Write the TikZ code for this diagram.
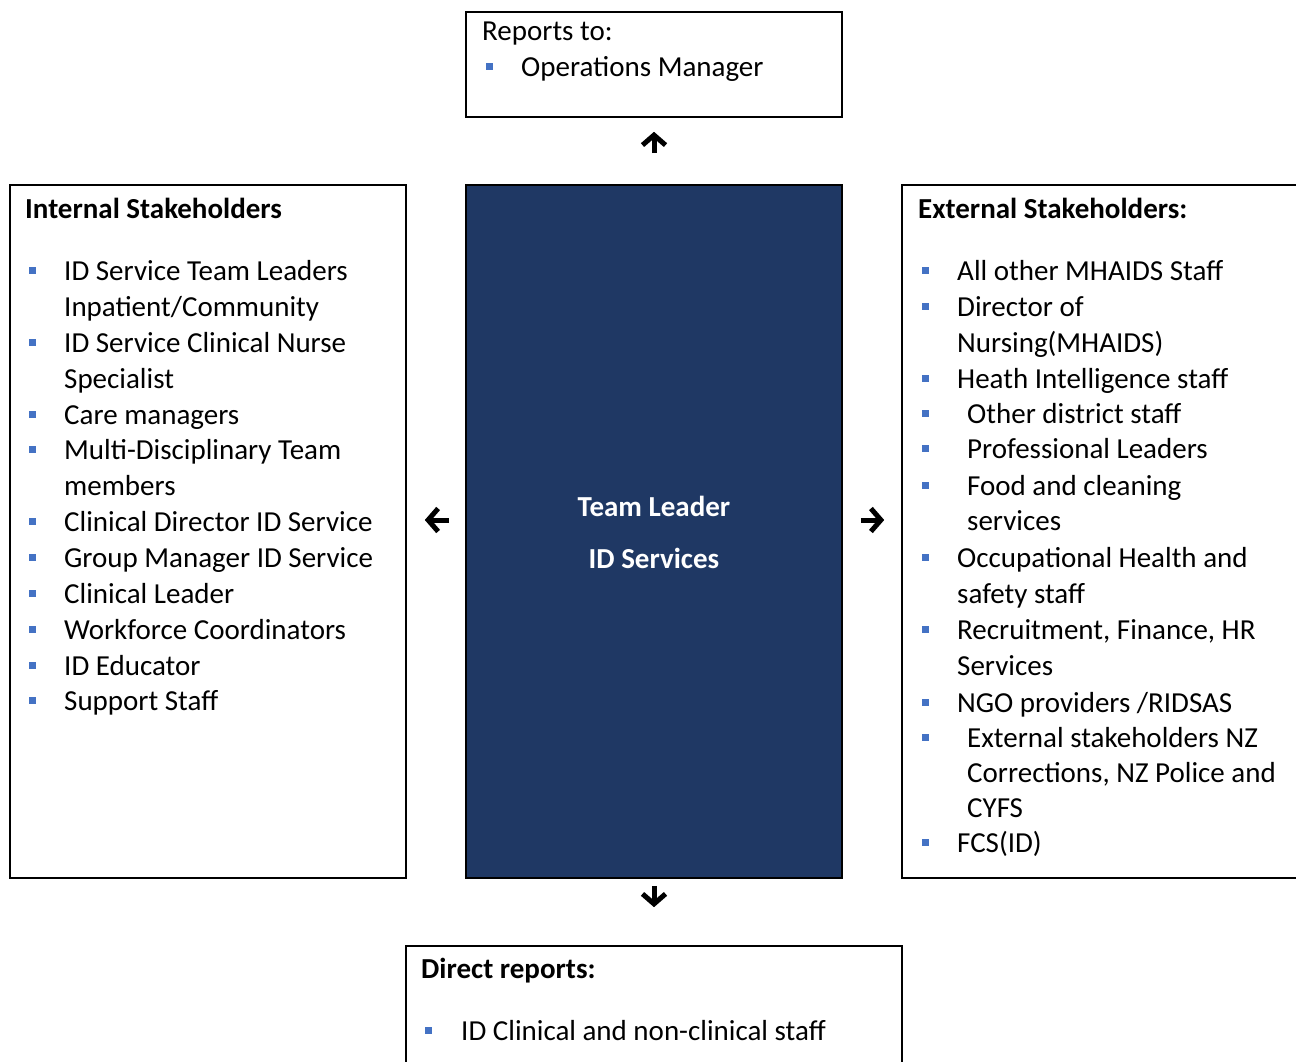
\documentclass[tikz,border=0pt]{standalone}
\usepackage{fontspec}
\setmainfont{Carlito}
\usetikzlibrary{arrows.meta}
\definecolor{navy}{HTML}{1F3864}
\definecolor{bulblue}{HTML}{4472C4}
\begin{document}
\begin{tikzpicture}[x=1pt,y=-1pt,
 box/.style={draw=black,line width=1.6pt,rectangle,inner sep=0pt},
 txt/.style={anchor=base west,inner sep=0pt,font=\fontsize{29}{34}\selectfont},
 ttl/.style={anchor=base west,inner sep=0pt,font=\fontsize{29}{34}\selectfont\bfseries},
 ctr/.style={anchor=base,inner sep=0pt,text=white,font=\fontsize{29}{34}\selectfont\bfseries},
 bul/.style={rectangle,fill=bulblue,inner sep=0pt,minimum size=7pt},
 arr/.style={line width=5pt,-{Straight Barb[length=10pt,width=23pt]}}]
\useasboundingbox (0,0) rectangle (1296,1062);
\fill[white] (0,0) rectangle (1296,1062);
% boxes
\node[box,minimum width=376pt,minimum height=105pt] (top) at (654,64.5) {};
\node[box,minimum width=396pt,minimum height=693pt] (left) at (208,531.5) {};
\node[box,fill=navy,minimum width=376pt,minimum height=693pt] (center) at (654,531.5) {};
\node[box,minimum width=408pt,minimum height=693pt] (right) at (1106,531.5) {};
\node[box,minimum width=496pt,minimum height=129pt] (bottom) at (654,1010.5) {};
% arrows
\draw[arr,shorten <=31pt,shorten >=14pt] (center.north) -- (top.south);
\draw[arr,shorten <=16pt,shorten >=18pt] ([yshift=11.5pt]center.west) -- ([yshift=11.5pt]left.east);
\draw[arr,shorten <=18pt,shorten >=17pt] ([yshift=11.5pt]center.east) -- ([yshift=11.5pt]right.west);
\draw[arr,shorten <=7pt,shorten >=38pt] (center.south) -- (bottom.north);
% top box
\node[txt] (rt) at (482,41) {Reports to:};
\node[bul] (tb1) at (489,67) {};
\node[txt] (t1) at (521,77) {Operations Manager};
% center
\node[ctr] (c1) at (654,516) {Team Leader};
\node[ctr] (c2) at (654,568) {ID Services};
% left box
\node[ttl] (lt) at (25,218) {Internal Stakeholders};
\node[bul] (lb1) at (32,270.5) {};
\node[txt] (l1) at (64,280) {ID Service Team Leaders};
\node[txt] (l2) at (64,316) {Inpatient/Community};
\node[bul] (lb3) at (32,342.5) {};
\node[txt] (l3) at (64,352) {ID Service Clinical Nurse};
\node[txt] (l4) at (64,388) {Specialist};
\node[bul] (lb5) at (32,414.5) {};
\node[txt] (l5) at (64,424) {Care managers};
\node[bul] (lb6) at (32,449.5) {};
\node[txt] (l6) at (64,459) {Multi-Disciplinary Team};
\node[txt] (l7) at (64,495) {members};
\node[bul] (lb8) at (32,521.5) {};
\node[txt] (l8) at (64,531) {Clinical Director ID Service};
\node[bul] (lb9) at (32,557.5) {};
\node[txt] (l9) at (64,567) {Group Manager ID Service};
\node[bul] (lb10) at (32,593.5) {};
\node[txt] (l10) at (64,603) {Clinical Leader};
\node[bul] (lb11) at (32,629.5) {};
\node[txt] (l11) at (64,639) {Workforce Coordinators};
\node[bul] (lb12) at (32,665.5) {};
\node[txt] (l12) at (64,675) {ID Educator};
\node[bul] (lb13) at (32,700.5) {};
\node[txt] (l13) at (64,710) {Support Staff};
% right box
\node[ttl] (rtt) at (918,218) {External Stakeholders:};
\node[bul] (rb1) at (925,270.5) {};
\node[txt] (r1) at (957,280) {All other MHAIDS Staff};
\node[bul] (rb2) at (925,306.5) {};
\node[txt] (r2) at (957,316) {Director of};
\node[txt] (r3) at (957,352) {Nursing(MHAIDS)};
\node[bul] (rb4) at (925,378.5) {};
\node[txt] (r4) at (957,388) {Heath Intelligence staff};
\node[bul] (rb5) at (925,413.5) {};
\node[txt] (r5) at (967,423) {Other district staff};
\node[bul] (rb6) at (925,448.5) {};
\node[txt] (r6) at (967,458) {Professional Leaders};
\node[bul] (rb7) at (925,485.5) {};
\node[txt] (r7) at (967,495) {Food and cleaning};
\node[txt] (r8) at (967,530) {services};
\node[bul] (rb9) at (925,557.5) {};
\node[txt] (r9) at (957,567) {Occupational Health and};
\node[txt] (r10) at (957,603) {safety staff};
\node[bul] (rb11) at (925,629.5) {};
\node[txt] (r11) at (957,639) {Recruitment, Finance, HR};
\node[txt] (r12) at (957,675) {Services};
\node[bul] (rb13) at (925,702.5) {};
\node[txt] (r13) at (957,712) {NGO providers /RIDSAS};
\node[bul] (rb14) at (925,737.5) {};
\node[txt] (r14) at (967,747) {External stakeholders NZ};
\node[txt] (r15) at (967,782) {Corrections, NZ Police and};
\node[txt] (r16) at (967,817) {CYFS};
\node[bul] (rb17) at (925,842.5) {};
\node[txt] (r17) at (957,852) {FCS(ID)};
% bottom box
\node[ttl] (bt) at (421,978) {Direct reports:};
\node[bul] (bb1) at (428,1030.5) {};
\node[txt] (b1) at (461,1040) {ID Clinical and non-clinical staff};
\end{tikzpicture}
\end{document}
